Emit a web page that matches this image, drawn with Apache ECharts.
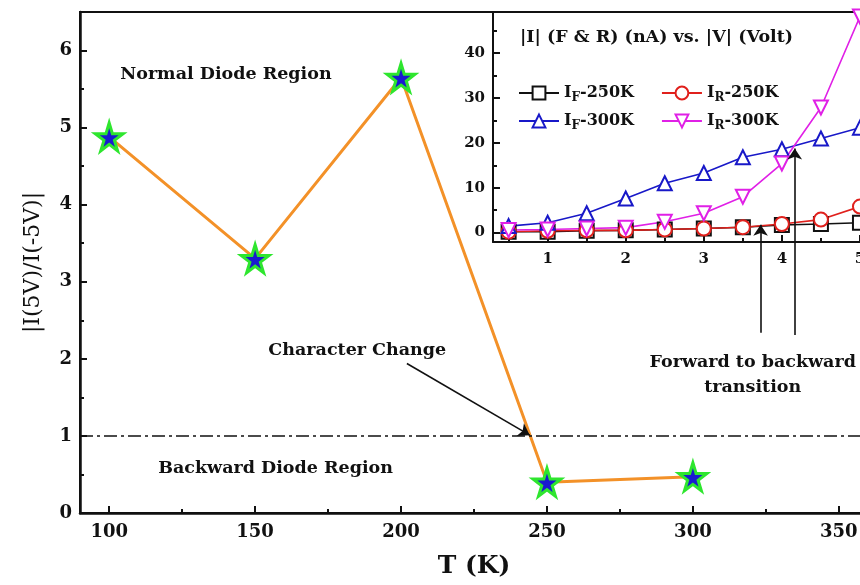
<!DOCTYPE html>
<html>
<head>
<meta charset="utf-8">
<script src="https://cdn.jsdelivr.net/npm/echarts@6/dist/echarts.min.js"></script>
<style>
  html, body { margin: 0; padding: 0; background: #fff; }
  #chart { width: 860px; height: 585px; }
</style>
</head>
<body>
<div id="chart"></div>
<script>
// ---- main plot: rectification ratio vs temperature ----
var temps = [100, 150, 200, 250, 300];
var ratio = [4.88, 3.30, 5.65, 0.40, 0.47];
var tempTicks = [100, 150, 200, 250, 300, 350];
var tempMinor = [125, 175, 225, 275, 325];
var ratioTicks = [0, 1, 2, 3, 4, 5, 6];
var ratioMinor = [0.5, 1.5, 2.5, 3.5, 4.5, 5.5];

// annotation texts (T, ratio, text)
var notes = [
  [140, 5.69, 'Normal Diode Region'],
  [185, 2.11, 'Character Change'],
  [157, 0.58, 'Backward Diode Region'],
  [320.5, 1.79, 'Forward to backward\ntransition']
];
// arrows: [fromT, fromR, toT, toR]
var arrows = [
  [202, 1.94, 244.1, 1.01],
  [323.2, 2.34, 323.2, 3.74],
  [334.9, 2.31, 334.9, 4.73]
];

// ---- inset: |I| vs |V| ----
var volts = [0.5, 1, 1.5, 2, 2.5, 3, 3.5, 4, 4.5, 5];
var iF250 = [0.2, 0.2, 0.4, 0.5, 0.7, 0.9, 1.2, 1.7, 1.9, 2.2];
var iR250 = [0.2, 0.4, 0.5, 0.5, 0.7, 0.9, 1.2, 1.9, 2.9, 5.8];
var iF300 = [1.45, 2.2, 4.3, 7.6, 11.0, 13.3, 16.8, 18.6, 21.0, 23.4];
var iR300 = [0.56, 0.7, 0.9, 1.1, 2.4, 4.3, 8.0, 15.4, 27.9, 48.2];
var voltTicks = [1, 2, 3, 4, 5];
var voltMinor = [0.5, 1.5, 2.5, 3.5, 4.5];
var curTicks = [0, 10, 20, 30, 40];
var curMinor = [5, 15, 25, 35, 45];

var FONT = 'DejaVu Serif';

function pairs(xs, ys) {
  var out = [];
  for (var i = 0; i < xs.length; i++) out.push([xs[i], ys[i]]);
  return out;
}

var chart = echarts.init(document.getElementById('chart'));

var star = 'path://M50,0 L61,35 L98,35 L68,57 L79,91 L50,70 L21,91 L32,57 L2,35 L39,35 Z';

function majorAxis(grid, min, max, ticks, size, margin) {
  return {
    type: 'value', gridIndex: grid, min: min, max: max,
    axisLine: { show: true, onZero: false, lineStyle: { color: '#111', width: grid === 0 ? 2.5 : 2 } },
    axisTick: { show: true, inside: true, length: 7, customValues: ticks, lineStyle: { color: '#111', width: 2 } },
    axisLabel: { customValues: ticks, margin: margin, color: '#111', fontFamily: FONT, fontWeight: 'bold', fontSize: size },
    splitLine: { show: false }
  };
}
function minorAxis(grid, min, max, ticks, pos) {
  return {
    type: 'value', gridIndex: grid, min: min, max: max, position: pos,
    axisLine: { show: false, onZero: false },
    axisTick: { show: true, inside: true, length: 4, customValues: ticks, lineStyle: { color: '#111', width: 2 } },
    axisLabel: { show: false },
    splitLine: { show: false }
  };
}

var xMain = majorAxis(0, 90, 360, tempTicks, 18, 10);
xMain.position = 'bottom';
xMain.name = 'T (K)';
xMain.nameLocation = 'middle';
xMain.nameGap = 41;
xMain.nameTextStyle = { fontFamily: FONT, fontWeight: 'bold', fontSize: 25, color: '#111' };

var yMain = majorAxis(0, 0, 6.5, ratioTicks, 18, 8);
yMain.position = 'left';
yMain.name = '|I(5V)/I(-5V)|';
yMain.nameLocation = 'middle';
yMain.nameGap = 36;
yMain.nameTextStyle = { fontFamily: FONT, fontSize: 22, color: '#111' };

var xIn = majorAxis(1, 0.3, 5.5, voltTicks, 15, 10);
xIn.position = 'bottom';
var yIn = majorAxis(1, -2.1, 49.2, curTicks, 15, 8);
yIn.position = 'left';

function legendName(name) {
  var sub = name.charAt(1);
  return '{m|I}{s|' + sub + '}{m|' + name.slice(2) + '}';
}
var legendText = {
  color: '#111',
  rich: {
    m: { fontFamily: FONT, fontWeight: 'bold', fontSize: 16, color: '#111' },
    s: { fontFamily: FONT, fontWeight: 'bold', fontSize: 12, color: '#111', padding: [9, 0, 0, 0] }
  }
};

function insetSeries(name, ys, color, symbol, rotate) {
  return {
    name: name, type: 'line', xAxisIndex: 2, yAxisIndex: 2,
    data: pairs(volts, ys),
    symbol: symbol, symbolSize: 14, symbolRotate: rotate || 0,
    lineStyle: { color: color, width: 1.6 },
    itemStyle: { color: color, borderColor: color, borderWidth: 1.6 },
    z: 3
  };
}

var option = {
  animation: false,
  backgroundColor: '#fff',
  title: {
    text: '|I| (F & R) (nA) vs. |V| (Volt)',
    left: 515, top: 23,
    textStyle: { fontFamily: FONT, fontWeight: 'bold', fontSize: 17.5, color: '#111' }
  },
  legend: [
    { data: ['IF-250K', 'IR-250K'], left: 513, top: 80, itemWidth: 40, itemHeight: 16, itemGap: 27,
      formatter: legendName, textStyle: legendText },
    { data: ['IF-300K', 'IR-300K'], left: 513, top: 108, itemWidth: 40, itemHeight: 16, itemGap: 27,
      formatter: legendName, textStyle: legendText }
  ],
  grid: [
    { left: 80, top: 12, width: 788, height: 501, show: true, borderColor: '#111', borderWidth: 2, outerBoundsMode: 'none' },
    { left: 493, top: 12, width: 406, height: 230, outerBoundsMode: 'none' }
  ],
  xAxis: [xMain, minorAxis(0, 90, 360, tempMinor, 'bottom'), xIn, minorAxis(1, 0.3, 5.5, voltMinor, 'bottom')],
  yAxis: [yMain, minorAxis(0, 0, 6.5, ratioMinor, 'left'), yIn, minorAxis(1, -2.1, 49.2, curMinor, 'left')],
  series: [
    {
      name: 'ratio', type: 'line', xAxisIndex: 0, yAxisIndex: 0,
      data: pairs(temps, ratio),
      symbol: star, symbolSize: 28,
      lineStyle: { color: '#f39128', width: 3 },
      itemStyle: { color: '#1a1ad0', borderColor: '#2ee62e', borderWidth: 3 },
      markLine: {
        silent: true, symbol: 'none', label: { show: false },
        lineStyle: { color: '#111', width: 1.6, type: [13, 4, 3, 4] },
        data: [{ yAxis: 1 }]
      },
      z: 4
    },
    {
      name: 'notes', type: 'scatter', xAxisIndex: 0, yAxisIndex: 0,
      data: notes, symbolSize: 0, silent: true,
      itemStyle: { opacity: 1 },
      label: {
        show: true, position: 'inside', formatter: function (p) { return p.data[2]; },
        fontFamily: FONT, fontWeight: 'bold', fontSize: 17.5, color: '#111', lineHeight: 25, align: 'center'
      },
      markLine: {
        silent: true, symbol: ['none', 'arrow'], symbolSize: 11, label: { show: false },
        lineStyle: { color: '#111', width: 1.6, type: 'solid' },
        data: arrows.map(function (a) { return [{ coord: [a[0], a[1]] }, { coord: [a[2], a[3]] }]; })
      },
      z: 5
    },
    insetSeries('IF-250K', iF250, '#111111', 'emptyRect'),
    insetSeries('IR-250K', iR250, '#e0201c', 'emptyCircle'),
    insetSeries('IF-300K', iF300, '#1818c8', 'emptyTriangle'),
    insetSeries('IR-300K', iR300, '#e020e6', 'emptyTriangle', 180)
  ]
};

chart.setOption(option);
</script>
</body>
</html>
